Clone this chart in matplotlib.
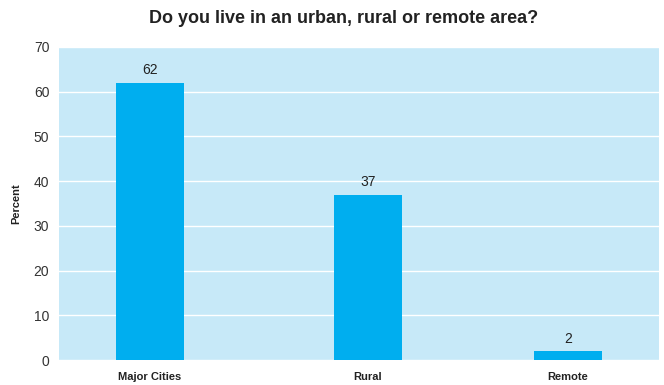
import matplotlib.pyplot as plt

# survey answers
categories = ['Major Cities', 'Rural', 'Remote']
percent = [62, 37, 2]
y_ticks = [0, 10, 20, 30, 40, 50, 60, 70]

# bar centres (slightly uneven spacing as in the original)
x_pos = [0, 1.09, 2.09]

plt.rcParams['font.family'] = ['Liberation Sans', 'DejaVu Sans']

fig = plt.figure(figsize=(6.64, 3.85), dpi=100)
ax = fig.add_axes([59 / 664, 25 / 385, 600 / 664, 313 / 385])
ax.set_facecolor('#c7e9f8')

bars = ax.bar(x_pos, percent, width=0.34, color='#00aeef', zorder=3)
for b, v in zip(bars, percent):
    ax.annotate(str(v), (b.get_x() + b.get_width() / 2, v),
                xytext=(0, 4), textcoords='offset points',
                ha='center', va='bottom', fontsize=10, color='#222222')

ax.set_xlim(-0.455, 2.545)
ax.set_ylim(0, 70)
ax.set_yticks(y_ticks)
ax.set_xticks(x_pos)
ax.set_xticklabels(categories, fontweight='bold', fontsize=8, color='#222222')
ax.tick_params(axis='y', length=0, pad=7, labelsize=10, labelcolor='#333333')
ax.tick_params(axis='x', length=0, pad=9)
ax.grid(axis='y', color='white', linewidth=1.0, zorder=1)
for s in ax.spines.values():
    s.set_visible(False)

ax.set_ylabel('Percent', fontweight='bold', fontsize=8, color='#222222', labelpad=9)
fig.text(0.517, 0.951, 'Do you live in an urban, rural or remote area?',
         ha='center', va='center', fontsize=13, fontweight='bold', color='#222222')

plt.savefig('out.png', dpi=100)
